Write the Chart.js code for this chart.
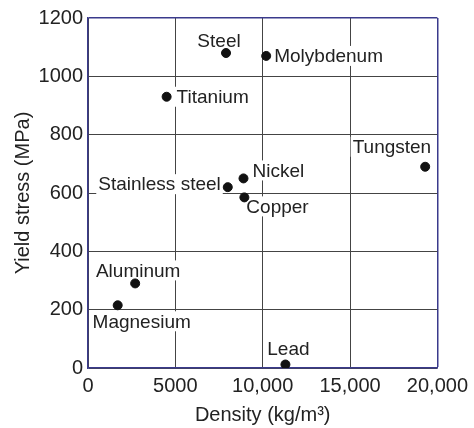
<!DOCTYPE html>
<html>
<head>
<meta charset="utf-8">
<script src="https://cdn.jsdelivr.net/npm/chart.js@4"></script>
<style>
  html, body { margin: 0; padding: 0; background: #fff; }
  #wrap { width: 474px; height: 428px; }
</style>
</head>
<body>
<div id="wrap"><canvas id="myChart" width="474" height="428"></canvas></div>
<script>
document.addEventListener("DOMContentLoaded", () => {

  // Materiales: densidad (kg/m3) y límite elástico (MPa)
  const materials = ["Steel", "Molybdenum", "Titanium", "Stainless steel", "Nickel",
                     "Copper", "Tungsten", "Aluminum", "Magnesium", "Lead"];
  const density = [7900, 10200, 4500, 8000, 8900, 8950, 19300, 2700, 1700, 11300];
  const yieldStress = [1080, 1070, 930, 620, 650, 585, 690, 290, 215, 12];
  const xTicks = [0, 5000, 10000, 15000, 20000];
  const yTicks = [0, 200, 400, 600, 800, 1000, 1200];

  const FONT = "'Liberation Sans', Arial, Helvetica, sans-serif";
  const NAVY = '#3a3a8c';

  // donde va cada etiqueta respecto a su punto
  const labelPlace = {
    "Steel":           { dx: -7,  dy: -12, align: 'center' },
    "Molybdenum":      { dx: 8,   dy: 0,   align: 'left' },
    "Titanium":        { dx: 10,  dy: 0,   align: 'left' },
    "Stainless steel": { dx: -7,  dy: -3,  align: 'right' },
    "Nickel":          { dx: 9,   dy: -8,  align: 'left' },
    "Copper":          { dx: 2,   dy: 9,   align: 'left' },
    "Tungsten":        { dx: 6,   dy: -20, align: 'right' },
    "Aluminum":        { dx: 3,   dy: -13, align: 'center' },
    "Magnesium":       { dx: 24,  dy: 16,  align: 'center' },
    "Lead":            { dx: 3,   dy: -16, align: 'center' }
  };

  const pointLabels = {
    id: 'pointLabels',
    beforeDatasetsDraw(chart) {
      const c = chart.ctx;
      const meta = chart.getDatasetMeta(0);
      c.save();
      c.font = '19px ' + FONT;
      c.textBaseline = 'middle';
      meta.data.forEach((pt, i) => {
        const name = materials[i];
        const p = labelPlace[name];
        const w = c.measureText(name).width;
        const x = pt.x + p.dx;
        const y = pt.y + p.dy;
        let left = x;
        if (p.align === 'center') left = x - w / 2;
        if (p.align === 'right') left = x - w;
        c.fillStyle = '#fff';
        c.fillRect(left - 2, y - 10, w + 4, 20);
        c.fillStyle = '#222';
        c.textAlign = 'left';
        c.fillText(name, left, y + 1);
      });
      c.restore();
    }
  };

  const fmt = v => String(v).replace(/\B(?=(\d{3})+(?!\d))/g, ',');

  const ctx = document.getElementById('myChart').getContext('2d');
  new Chart(ctx, {
    type: 'scatter',
    data: {
      datasets: [{
        label: 'Materials',
        data: density.map((d, i) => ({ x: d, y: yieldStress[i] })),
        backgroundColor: '#111',
        borderColor: '#111',
        pointRadius: 4.5,
        pointHoverRadius: 4.5
      }]
    },
    options: {
      responsive: false,
      animation: false,
      layout: { padding: { top: 18, right: 36, left: 0, bottom: 0 } },
      scales: {
        x: {
          type: 'linear',
          min: 0,
          max: 20000,
          afterFit: s => { s.height = 60; },
          afterBuildTicks: s => { s.ticks = xTicks.map(v => ({ value: v })); },
          ticks: {
            padding: 6,
            color: '#222',
            font: { family: FONT, size: 20 },
            maxRotation: 0,
            callback: v => v < 10000 ? String(v) : fmt(v)
          },
          grid: {
            color: c => c.tick && c.tick.value === 20000 ? NAVY : '#444',
            lineWidth: c => c.tick && c.tick.value === 20000 ? 1.5 : 1,
            drawTicks: false
          },
          border: { color: NAVY, width: 1.5 },
          title: {
            display: true,
            text: 'Density (kg/m³)',
            color: '#222',
            font: { family: FONT, size: 20 },
            padding: { top: 0, bottom: 1 }
          }
        },
        y: {
          min: 0,
          max: 1200,
          afterFit: s => { s.width = 88; },
          afterBuildTicks: s => { s.ticks = yTicks.map(v => ({ value: v })); },
          ticks: {
            padding: 5,
            color: '#222',
            font: { family: FONT, size: 20 },
            callback: v => String(v)
          },
          grid: {
            color: c => c.tick && c.tick.value === 1200 ? NAVY : '#444',
            lineWidth: c => c.tick && c.tick.value === 1200 ? 1.5 : 1,
            drawTicks: false
          },
          border: { color: NAVY, width: 1.5 },
          title: {
            display: true,
            text: 'Yield stress (MPa)',
            color: '#222',
            font: { family: FONT, size: 20 },
            padding: { top: 11, bottom: 0 }
          }
        }
      },
      plugins: {
        legend: { display: false },
        tooltip: { enabled: false }
      }
    },
    plugins: [pointLabels]
  });

});
</script>
</body>
</html>
